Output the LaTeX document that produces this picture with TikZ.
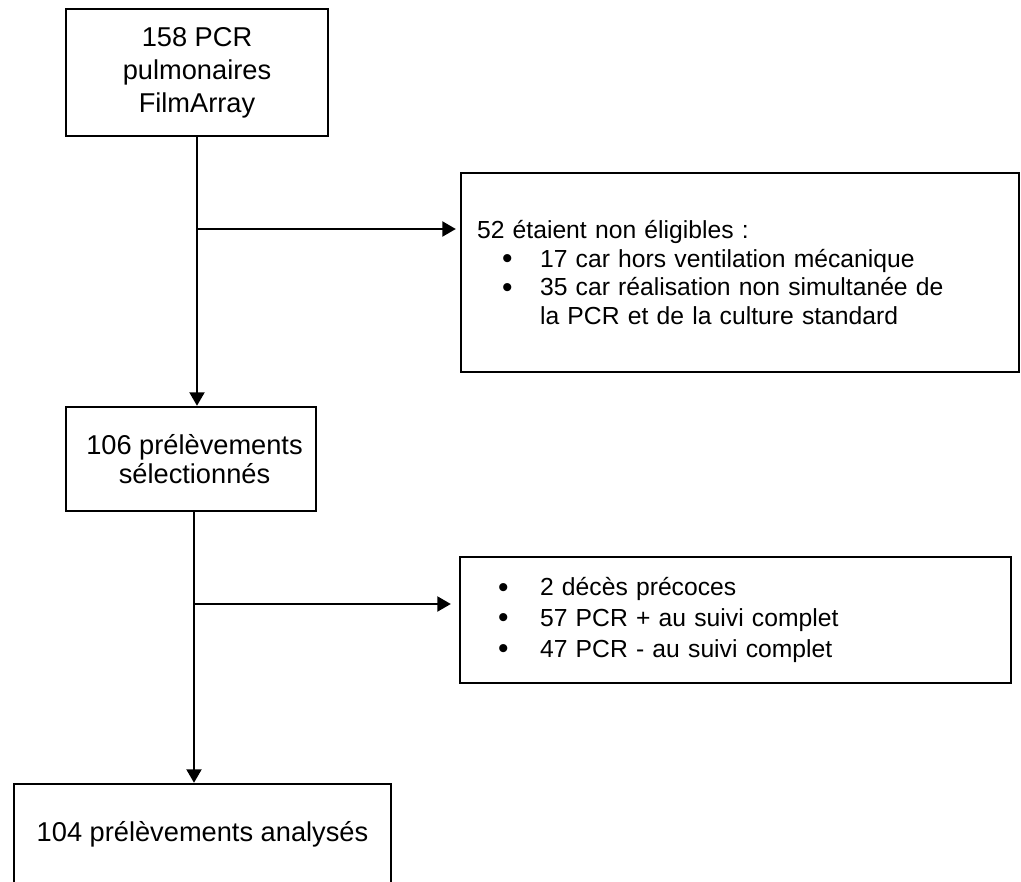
\documentclass[tikz,border=0pt]{standalone}
\usepackage{fontspec}
\setmainfont{Liberation Sans}
\usetikzlibrary{arrows.meta}

\newcommand{\bigdot}{\smash{\raisebox{-0.05em}{\fontsize{17}{17}\selectfont\textbullet}}}

\begin{document}
\begin{tikzpicture}[x=0.02cm, y=-0.02cm,
  box/.style={draw, black, line width=1.4pt, inner sep=0pt},
  bigtxt/.style={font=\fontsize{15.5}{18.8}\selectfont},
  smalltxt/.style={font=\fontsize{14.05}{16.4}\selectfont},
  flow/.style={line width=1.2pt, -{Triangle[length=0.27cm, width=0.3cm]}}]
\useasboundingbox (0,0) rectangle (1021,882);

% Draw the main boxes
\node[box, bigtxt, align=center, minimum width=5.24cm, minimum height=2.54cm] (pcr) at (197,72.5) {158 PCR\\pulmonaires\\FilmArray};
\node[box, font=\fontsize{15.5}{16.8}\selectfont, align=center, minimum width=5cm, minimum height=2.08cm] (sel) at (191,459) {\hspace*{0.14cm}106 prélèvements\\\hspace*{0.14cm}sélectionnés};
\node[box, bigtxt, align=center, minimum width=7.54cm, minimum height=2cm] (ana) at (202.5,834) {104 prélèvements analysés};

% Draw the side boxes
\node[box, smalltxt, align=left, text width=10.52cm, inner xsep=0.32cm, minimum height=3.98cm] (excl) at (740,272.5) {52 étaient non éligibles :\\
\hspace*{0.5cm}\makebox[0.76cm][l]{\bigdot}17 car hors ventilation mécanique\\
\hspace*{0.5cm}\makebox[0.76cm][l]{\bigdot}35 car réalisation non simultanée de\\
\hspace*{1.26cm}la PCR et de la culture standard};
\node[box, font=\fontsize{14.05}{17.4}\selectfont, align=left, text width=10.38cm, inner xsep=0.32cm, minimum height=2.52cm] (fu) at (735.5,620) {\hspace*{0.44cm}\makebox[0.84cm][l]{\bigdot}2 décès précoces\\
\hspace*{0.44cm}\makebox[0.84cm][l]{\bigdot}57 PCR + au suivi complet\\
\hspace*{0.44cm}\makebox[0.84cm][l]{\bigdot}47 PCR - au suivi complet};

% Branch points
\coordinate (j1) at (197,229);
\coordinate (j2) at (194,604);

% Draw the arrows
\draw[flow] (pcr.south -| j1) -- (sel.north -| j1);
\draw[flow, shorten >=0.08cm] (j1) -- (j1 -| excl.west);
\draw[flow] (sel.south -| j2) -- (ana.north -| j2);
\draw[flow, shorten >=0.16cm] (j2) -- (j2 -| fu.west);

\end{tikzpicture}
\end{document}
